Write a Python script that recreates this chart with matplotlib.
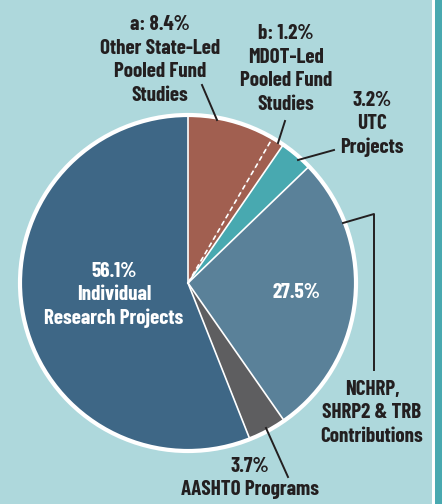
import matplotlib
matplotlib.use('Agg')
import matplotlib.pyplot as plt
from matplotlib.patches import Circle, Rectangle
import numpy as np

# slice shares, clockwise from 12 o'clock
shares = [8.4, 1.2, 3.2, 27.5, 3.7, 56.1]
slice_colors = ['#a15f50', '#a15f50', '#48a9b0', '#5a8199', '#5e5e60', '#3e6786']

label_a = "a: 8.4%\nOther State-Led\nPooled Fund\nStudies"
label_b = "b: 1.2%\nMDOT-Led\nPooled Fund\nStudies"
label_utc = "3.2%\nUTC\nProjects"
label_nchrp = "NCHRP,\nSHRP2 & TRB\nContributions"
label_aashto = "3.7%\nAASHTO Programs"
label_nchrp_pct = "27.5%"
label_indiv = "56.1%\nIndividual\nResearch Projects"

W, H = 442, 504
BG = '#aed8dc'
plt.rcParams['font.family'] = ['Barlow Condensed', 'DejaVu Sans']


def Y(y):
    # pixel row (from top) -> data y
    return H - y


fig = plt.figure(figsize=(W / 100, H / 100), dpi=100)
fig.patch.set_facecolor(BG)
ax = fig.add_axes([0, 0, 1, 1])

# right edge strip
ax.add_patch(Rectangle((432, 0), 2.5, H, color='white', lw=0))
ax.add_patch(Rectangle((434.5, 0), 10, H, color='#48a9b0', lw=0))

cx, cy, r = 188, Y(283), 167
wedges, _ = ax.pie(shares, colors=slice_colors, startangle=90, counterclock=False,
                   center=(cx, cy), radius=r, frame=True,
                   wedgeprops=dict(edgecolor='none', linewidth=0))
# slice borders; the a/b split is dashed
cum = np.cumsum([0] + shares[:-1])
for i, c in enumerate(cum):
    t = np.deg2rad(90 - 3.6 * c)
    style = dict(ls=(0, (3, 2))) if i == 1 else dict(ls='-')
    ax.plot([cx, cx + r * np.cos(t)], [cy, cy + r * np.sin(t)], color='white',
            lw=1.2, zorder=3, **style)
ax.add_patch(Circle((cx, cy), r + 1, fill=False, ec='white', lw=3, zorder=4))
ax.set_xlim(0, W)
ax.set_ylim(0, H)
ax.set_aspect('equal')
ax.set_axis_off()

fs = 15.2
kw = dict(ha='center', va='center', fontsize=fs, fontweight='bold', linespacing=1.3)
ax.text(160, Y(60), label_a, color='#231f20', **kw)
ax.text(286, Y(69), label_b, color='#231f20', **kw)
ax.text(372, Y(124), label_utc, color='#231f20', **kw)
ax.text(372, Y(413), label_nchrp, color='#231f20', **kw)
ax.text(250, Y(478), label_aashto, color='#231f20', **kw)
ax.text(296, Y(293), label_nchrp_pct, color='white', **kw)
ax.text(114, Y(295), label_indiv, color='white', **kw)

lk = dict(color='#231f20', lw=1.4, zorder=5)
ax.plot([202, 217], [Y(85), Y(120)], **lk)
ax.plot([285, 278], [Y(121), Y(143)], **lk)
ax.plot([334, 298], [Y(150), Y(160)], **lk)
ax.plot([343, 374, 374], [Y(223), Y(214), Y(370)], **lk)
ax.plot([266, 288], [Y(428), Y(477)], **lk)

fig.savefig('out.png', dpi=100, facecolor=BG)
